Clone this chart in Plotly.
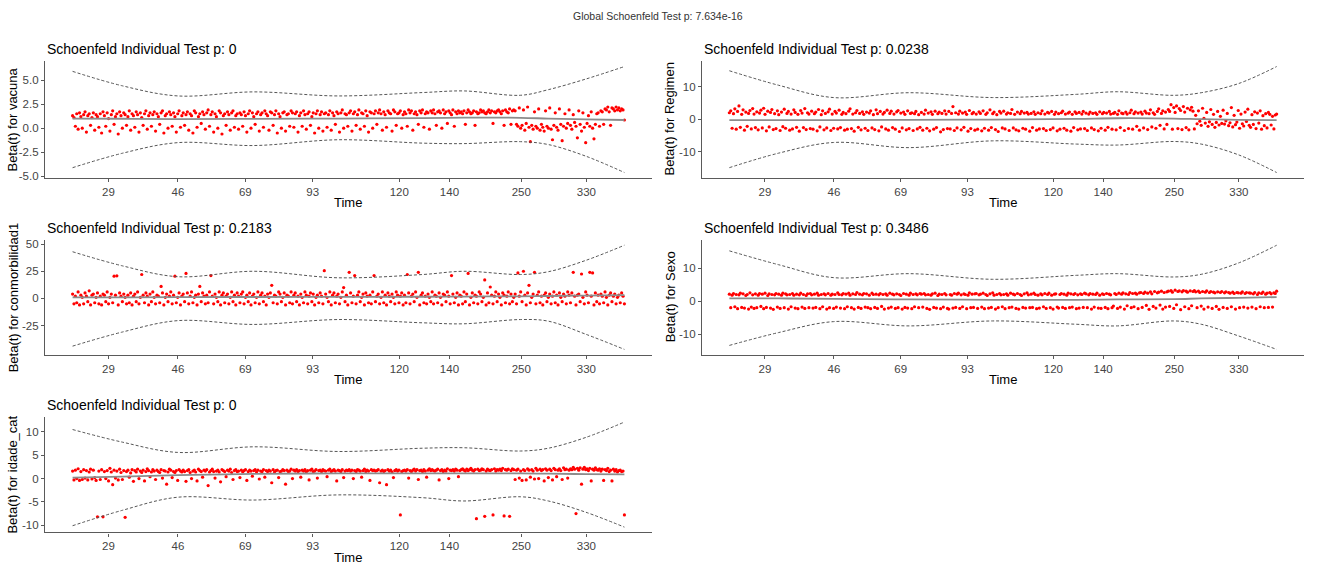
import plotly.graph_objects as go

# ---------------- data ----------------
N_EVENTS = 400
event_rank = list(range(N_EVENTS))          # events ordered by (transformed) time
knot_rank = [0, 36, 76, 131, 192, 253, 283, 324, 344, 371, 399]
time_tick_rank = [25.9, 76.2, 124.9, 173.6, 236.2, 272.5, 324.4, 371.5]
time_tick_labels = ["29", "46", "69", "93", "120", "140", "250", "330"]

global_title = "Global Schoenfeld Test p: 7.634e-16"
covariates = ["vacuna", "Regimen", "conmorbilidad1", "Sexo", "idade_cat"]
pvalues = ["0", "0.0238", "0.2183", "0.3486", "0"]

resid_vacuna = [
    1.3, 1.1, 0.2, 1.5, -0.1, 1.6, 1.2, 0.0, 1.4, 1.7, -0.4, 1.3, 1.5, 0.3, 1.1, 1.6, -0.2, 1.4, 1.2, 0.1,
    1.5, -0.5, 1.7, 1.3, 0.2, 1.6, 1.0, -0.3, 1.4, 1.8, 0.4, 1.2, 1.5, -0.6, 1.7, 1.3, 0.0, 1.6, 1.4, 0.3,
    1.2, 1.8, -0.2, 1.5, 1.3, 0.1, 1.7, 1.4, -0.4, 1.6, 1.1, 0.3, 1.5, 1.8, -0.1, 1.3, 1.6, 0.2, 1.4, 1.7,
    -0.3, 1.5, 1.2, 0.4, 1.6, 1.8, -0.5, 1.3, 1.5, 0.0, 1.7, 1.4, 0.2, 1.6, 1.2, -0.4, 1.5, 1.8, 0.1, 1.3,
    1.6, 0.3, 1.4, 1.7, -0.2, 1.5, 1.3, -0.5, 1.8, 1.6, 0.1, 1.2, 1.5, 0.5, 1.7, 1.4, -0.1, 1.6, 1.9, 0.2,
    1.4, 1.7, -0.4, 1.5, 1.2, 0.0, 1.8, 1.6, -0.6, 1.3, 1.5, 0.3, 1.7, 1.4, -0.2, 1.6, 1.8, 0.1, 1.3, 1.5,
    -0.1, 1.6, 1.4, 0.2, 1.7, 1.3, -0.4, 1.5, 1.8, 0.0, 1.6, 1.2, 0.4, 1.5, 1.7, -0.3, 1.4, 1.6, 0.1, 1.8,
    1.5, 1.3, -0.2, 1.7, 1.6, 0.3, 1.4, 1.8, -0.5, 1.5, 1.2, 0.0, 1.6, 1.7, -0.3, 1.4, 1.5, 0.2, 1.8, 1.6,
    0.1, 1.5, 1.7, -0.4, 1.3, 1.6, 0.2, 1.8, 1.4, -0.1, 1.5, 1.7, 0.3, 1.2, 1.6, -0.5, 1.5, 1.8, 0.0, 1.4,
    1.7, -0.3, 1.5, 1.6, 0.1, 1.4, 1.8, -0.2, 1.6, 1.3, 0.4, 1.7, 1.5, -0.4, 1.6, 1.9, 0.0, 1.5, 1.4, 0.2,
    1.6, 1.8, -0.3, 1.5, 1.7, 0.3, 1.4, 1.9, -0.1, 1.6, 1.5, 0.2, 1.8, 1.3, -0.4, 1.7, 1.6, 0.0, 1.5, 1.8,
    0.4, 1.6, 1.9, 1.5, -0.2, 1.7, 1.4, 0.1, 1.8, 1.6, 1.5, -0.3, 1.9, 1.7, 0.3, 1.5, 1.6, 1.8, 0.0, 1.4,
    1.7, 1.5, 0.2, 1.9, 1.6, 1.8, -0.2, 1.5, 1.7, 1.4, 0.4, 1.8, 1.6, 1.9, 0.1, 1.5, 1.7, 1.6, -0.1, 1.8,
    1.6, 1.9, 1.5, 0.3, 1.7, 1.8, 1.6, 0.0, 1.9, 1.5, 1.7, 0.5, 1.8, 1.6, 1.4, 1.9, 0.2, 1.7, 1.5, 1.8,
    1.6, 1.7, 1.5, 1.8, 0.4, 1.6, 1.9, 1.7, 1.5, 1.6, 1.8, 0.3, 1.7, 1.5, 1.6, 1.9, 1.7, 1.8, 1.6, 1.5,
    1.7, 1.9, 1.6, 1.8, 0.5, 1.7, 1.6, 1.8, 1.9, 1.7, 1.5, 1.8, 0.3, 1.9, 1.7, 1.6, 2.0, 0.4, 1.8, 1.9,
    1.8, 0.4, 0.2, 2.1, 0.0, 0.3, 1.9, -0.2, 0.5, 2.2, 0.1, -1.4, 0.3, -0.1, 1.7, 0.2, 0.0, 2.0, -0.2, 0.4,
    0.1, -0.3, 1.8, 0.2, 0.0, 2.1, -0.1, -1.2, 0.3, 1.6, 0.1, -0.2, 2.0, 0.4, -1.3, 0.2, 1.5, 0.0, 0.5, 1.9,
    0.3, -0.1, 1.4, 0.6, 0.2, -1.0, 1.8, 0.4, -0.3, 1.6, 0.1, -1.5, 0.5, 1.3, 0.2, 1.7, 0.0, -1.1, 0.4, 1.5,
    1.6, 0.2, 1.8, 1.7, 0.4, 2.0, 1.9, 2.2, 1.7, 0.3, 2.1, 2.0, 1.8, 2.2, 1.9, 2.1, 1.8, 2.0, 1.9, 0.85,
]
resid_regimen = [
    2.0, 2.6, -2.8, 1.7, 3.2, -3.1, 2.4, 4.1, -2.5, 1.5, 2.9, -3.4, 2.2, -2.2, 1.8, 2.7, -3.0, 3.3, 1.6, -2.6,
    2.3, -3.3, 1.9, 2.8, -2.7, 3.4, 1.5, -3.6, 2.5, -2.4, 2.1, 3.0, -3.2, 1.7, -2.9, 2.6, 1.4, -3.5, 2.2, -2.3,
    3.1, -2.8, 1.8, 2.4, -3.4, 1.6, -3.0, 2.9, 2.1, -2.5, 1.5, -3.7, 2.7, 1.9, -2.6, 3.3, -3.2, 2.0, 1.6, -2.9,
    2.5, -3.1, 1.7, 2.2, -3.6, 3.0, -2.4, 1.4, 2.6, -3.3, 1.8, -2.7, 2.3, 3.1, -3.5, 1.6, -2.8, 2.4, 1.9, -3.0,
    2.8, -2.6, 1.5, 2.1, -3.4, 1.7, -3.1, 2.5, 3.2, -2.9, 1.6, -3.7, 2.0, 2.7, -2.5, 1.8, -3.3, 2.3, 1.5, -2.8,
    2.2, -3.5, 1.9, 2.6, -2.7, 1.4, -3.2, 2.9, 1.7, -3.6, 2.4, -2.4, 1.6, 2.1, -3.0, 2.8, -3.4, 1.8, 2.5, -2.6,
    1.6, -3.1, 2.3, 2.7, -3.8, 1.9, -2.7, 2.2, 1.5, -3.3, 2.6, -2.9, 1.8, 2.0, -3.5, 1.7, 2.4, -3.0, 1.4, -2.5,
    2.1, -3.4, 1.6, 2.8, -2.8, 1.9, -3.6, 2.3, 1.5, -3.1, 2.5, -2.6, 1.7, 2.2, -3.9, 1.8, -3.2, 2.6, 1.6, -2.9,
    2.4, -3.0, 1.8, 3.9, -3.5, 2.0, -2.7, 1.6, 2.5, -3.3, 1.9, -2.5, 2.2, 1.5, -3.7, 2.7, -2.9, 1.7, 2.1, -3.4,
    1.6, -3.1, 2.3, 1.8, -3.6, 2.6, -2.8, 1.5, 2.0, -3.4, 2.9, -2.6, 1.7, 2.2, -3.2, 1.4, -3.8, 2.4, 1.9, -2.7,
    2.5, -3.0, 1.6, 2.0, -3.5, 1.8, 3.0, -2.7, 1.5, -3.3, 2.2, -3.6, 1.7, 2.4, -2.8, 1.9, -3.1, 2.1, 1.6, -3.7,
    1.8, -2.6, 2.3, 1.5, -3.4, 2.0, -3.0, 1.7, 2.6, -2.9, 1.6, -3.5, 2.1, 1.9, -3.2, 2.4, -2.7, 1.5, 2.2, -3.6,
    1.7, -3.1, 2.0, 2.5, -2.8, 1.6, -3.4, 1.9, 2.2, -3.7, 1.5, -2.6, 2.3, 1.8, -3.3, 2.1, -3.0, 1.6, 2.4, -2.9,
    1.9, -3.5, 1.6, 2.2, -2.7, 1.8, -3.2, 2.0, 1.5, -3.6, 2.3, -2.8, 1.7, 2.1, -3.4, 1.9, -2.5, 2.4, 1.6, -3.1,
    1.8, 2.1, -3.3, 1.5, 2.6, -2.6, 1.9, 1.7, -3.5, 2.2, 1.6, -2.9, 2.0, 2.8, -3.1, 1.7, 2.3, -2.2, 1.9, -3.4,
    2.2, 1.6, -2.7, 2.5, 1.9, -3.2, 1.7, 2.9, -2.4, 2.0, 1.5, -2.8, 2.4, 3.2, -1.9, 1.8, 2.6, -3.0, 2.2, -1.6,
    3.0, 2.4, 4.5, -3.1, 3.6, 2.1, 4.1, -2.9, 3.3, 2.7, -3.2, 3.9, 2.2, -2.6, 3.4, -3.3, 2.9, 3.7, 2.5, -3.0,
    1.2, -1.4, 2.6, -0.6, -1.9, 3.4, 0.3, -1.2, 2.1, -2.2, -0.8, 3.0, -1.6, 1.5, -2.5, -1.0, 2.4, -1.8, 0.9, -1.3,
    2.8, -1.5, -0.5, 1.8, -2.0, -1.1, 3.6, -2.4, 1.2, -1.7, -0.9, 2.7, -2.8, 1.6, -1.4, -2.1, 2.2, -0.7, 3.1, -1.9,
    -2.5, 1.4, -1.6, 2.3, -2.9, 1.9, -1.2, 2.6, -3.1, 1.1, -2.0, 1.7, -2.7, 2.1, 1.5, -1.8, 0.9, -3.0, 1.3, 1.6,
]
resid_conmorbilidad1 = [
    4, -5, 2, -4, 6, -6, 3, 1, -5, 5, 2, -3, 7, -6, 3, 4, -4, 1, 5, -5,
    2, -6, 4, 3, -3, 6, -5, 1, 4, -4, 20.5, 3, 20.8, -6, 5, 2, -3, 4, 1, -5,
    3, -4, 5, -6, 2, 4, -3, 6, -5, 1, 22, 3, -4, 5, 2, -6, 4, -3, 6, 1,
    -5, 3, 2, -4, 11, 5, -6, 1, 4, -3, 2, 6, -5, 3, 20.5, -4, 1, 5, -6, 2,
    4, -3, 23, 5, -5, 2, 6, -4, 1, 3, -6, 4, 11, -3, 5, 2, -5, 3, -4, 6,
    21, 2, -5, 4, 1, -3, 6, -6, 3, 5, -4, 2, 4, -5, 1, 6, -3, 3, -6, 5,
    2, -4, 4, 6, -5, 1, 3, -3, 5, -6, 2, 4, -4, 1, 6, -5, 3, 5, -3, 2,
    -6, 4, 1, 5, 12, -4, 3, 2, -5, 6, 4, -3, 1, 5, -6, 3, 2, -4, 6, -5,
    3, 5, -3, 2, -6, 4, 1, -4, 6, 3, -5, 2, 5, -3, 4, -6, 1, 3, -4, 5,
    2, -5, 25.5, 4, 1, -3, 6, -6, 3, 5, -4, 2, 4, -5, 1, 6, 10, -3, 3, -6,
    24, 5, -4, 2, 21, -5, 3, 6, -3, 1, 4, -6, 5, 2, -4, 3, -5, 6, 21, -3,
    2, 4, -5, 1, 6, -4, 3, -6, 5, 2, -3, 4, 1, -5, 6, 3, -4, 2, 5, -6,
    3, -4, 22, 5, -5, 2, 4, -3, 6, 1, 24, -6, 3, 5, -4, 2, -5, 4, 1, -3,
    6, -5, 3, 2, -4, 5, 1, -6, 4, 3, -3, 6, 2, -5, 21, 4, -4, 1, 5, -6,
    3, 2, -5, 6, -3, 4, 23, -6, 1, 5, -4, 3, 2, -5, 6, 4, -3, 1, 17, -6,
    5, -4, 10.5, 3, -5, 2, 6, -3, 4, 1, -6, 5, 3, -4, 2, 6, -5, 4, -3, 1,
    4, -5, 23.5, 2, 6, -3, 25, 3, -6, 5, 12, -4, 1, 4, 24, -5, 3, 6, -4, 2,
    -6, 3, 5, -3, 1, 4, -5, 2, 6, -4, 3, -6, 5, 1, -3, 4, 2, -5, 6, 3,
    -4, 5, 24, 2, -6, 3, 4, -3, 22.5, 1, -5, 6, 3, -4, 24, 2, 23.5, -6, 5, -3,
    3, -5, 4, 2, -4, 6, 1, -6, 3, 5, -3, 2, 4, -5, 1, 3, -4, 5, 2, -5,
]
resid_sexo = [
    2.1, -2.0, 1.8, 2.3, -1.7, 2.0, -2.3, 1.9, 2.4, -1.9, 2.2, -2.1, 1.7, 2.0, -2.4, 2.5, -1.8, 1.9, -2.2, 2.2,
    -2.0, 1.8, 2.3, -1.6, 2.1, -2.3, 2.4, -1.9, 1.7, 2.2, -2.1, 2.0, -2.5, 1.9, 2.3, -1.8, 2.1, -2.2, 1.8, 2.4,
    -2.0, 2.2, 1.9, -2.4, 2.0, -1.7, 2.3, 1.8, -2.1, 2.1, -2.3, 1.9, 2.4, -1.8, 2.0, -2.2, 1.7, 2.2, -2.0, 2.3,
    1.9, -2.1, 2.1, -1.9, 2.4, 1.8, -2.3, 2.0, -1.7, 2.2, 1.9, -2.4, 2.3, -2.0, 1.8, 2.1, -2.2, 2.0, -1.8, 2.5,
    2.0, -2.1, 1.9, 2.3, -2.3, 2.1, -1.7, 2.4, 1.8, -2.0, 2.2, -2.4, 2.0, 2.6, -1.9, 2.1, -2.2, 1.9, 2.3, -1.8,
    2.2, -2.0, 1.8, -2.3, 2.4, 2.0, -1.9, 2.1, -2.2, 1.9, 2.3, -1.6, 2.0, -2.4, 2.2, 1.8, -2.1, 2.4, -1.8, 2.1,
    1.9, -2.2, 2.2, -2.0, 2.0, 1.7, -2.4, 2.3, -1.9, 2.1, -2.1, 1.8, 2.4, -2.3, 2.0, -1.7, 2.2, 1.9, -2.0, 2.3,
    2.1, -1.8, 2.3, 1.9, -2.2, 2.0, -2.5, 1.8, 2.2, -1.9, 2.4, -2.1, 1.7, 2.1, -2.3, 2.0, -1.8, 2.3, 1.9, -2.2,
    -2.4, 2.0, 1.8, -2.1, 2.3, -1.9, 2.1, 2.4, -2.2, 1.9, -1.7, 2.2, 2.0, -2.3, 1.8, 2.5, -2.0, 2.1, -1.9, 2.2,
    2.3, -2.2, 1.9, 2.1, -1.8, 2.4, -2.3, 2.0, 1.7, -2.1, 2.2, -1.9, 2.5, 1.8, -2.4, 2.0, -2.0, 2.3, 1.9, -1.7,
    2.0, -2.3, 2.2, 1.8, -2.0, 2.4, -1.8, 2.1, 1.9, -2.2, 2.3, -2.4, 2.0, 1.7, -1.9, 2.2, -2.1, 2.5, 1.9, -2.0,
    2.1, -1.9, 2.4, 2.0, -2.3, 1.8, -2.1, 2.2, 1.9, -1.7, 2.3, -2.2, 2.0, 2.4, -2.0, 1.8, -2.4, 2.1, 2.2, -1.8,
    -2.1, 2.0, 2.3, -1.9, 2.1, -2.2, 1.8, 2.4, -2.0, 2.2, -1.8, 2.0, 2.3, -2.3, 1.9, -2.1, 2.2, 2.0, -1.9, 2.4,
    2.2, -2.0, 1.9, 2.3, -2.4, 2.1, -1.8, 2.0, 2.4, -2.1, 1.8, -2.2, 2.2, 2.0, -1.9, 2.3, -2.3, 2.1, 1.9, -2.0,
    -1.5, 2.3, 2.0, -2.2, 2.4, -1.8, 2.1, 2.5, -2.4, 2.2, -1.4, 2.0, 2.6, -2.0, 2.3, -1.7, 2.4, 2.1, -2.3, 2.5,
    2.6, -1.9, 2.3, 2.7, -1.3, 2.4, -2.5, 2.8, 2.2, -1.6, 2.9, -2.1, 2.5, 2.7, -1.2, 3.0, -2.4, 2.6, -1.8, 2.8,
    3.0, -1.6, 3.2, 2.7, -2.2, 3.3, -1.1, 2.9, 3.1, -2.6, 2.8, 3.2, -1.7, 3.0, 2.7, -2.3, 3.1, -1.4, 2.9, 3.2,
    2.8, -2.0, 3.0, 2.6, -1.5, 2.9, -2.4, 2.7, 3.1, -1.8, 2.6, 2.9, -2.2, 2.7, 2.5, -1.6, 2.8, -2.5, 2.6, 2.9,
    -1.9, 2.5, 2.8, -2.2, 2.6, 2.4, -1.7, 2.7, 2.3, -2.4, 2.6, 2.5, -2.0, 2.4, 2.8, -1.8, 2.3, 2.6, -2.1, 2.5,
    2.4, -1.8, 2.2, 2.6, -2.3, 2.0, 2.5, -1.7, 2.3, 2.7, -2.0, 2.1, 2.4, -1.9, 2.6, 2.2, -1.8, 2.5, 2.3, 3.0,
]
resid_idade_cat = [
    1.6, -0.3, 1.8, 0.0, 2.1, -0.4, 1.5, -0.2, 1.9, 0.1, 1.7, -0.3, 1.4, 2.0, -0.1, 1.8, 0.2, -0.4, -8.2, 1.6,
    -0.2, 1.9, -8.2, 1.5, 0.0, 1.7, -0.5, 2.2, 1.4, -1.3, 1.8, 0.1, 1.6, -0.3, 2.0, 1.3, -0.2, 1.7, -8.3, 1.5,
    1.8, 0.3, 1.2, 1.9, -0.6, 1.7, 1.4, 2.0, 0.0, 1.6, 1.3, 1.8, -0.5, 1.5, 2.1, 1.7, 0.4, 1.4, 1.9, 1.6,
    -0.2, 1.8, 1.5, 1.3, 1.9, 0.1, 1.7, 1.6, -1.2, 1.4, 2.0, 1.8, 0.2, 1.5, 1.3, 1.7, -0.4, 1.9, 1.6, 1.4,
    1.8, 1.5, -0.6, 1.7, 1.9, 1.3, 0.0, 1.6, 1.8, 1.4, -0.5, 2.0, 1.7, 1.5, 0.3, 1.8, 1.6, 1.9, -1.5, 1.4,
    1.7, 2.0, 1.5, 0.1, 1.6, 1.8, 1.4, -0.7, 1.9, 1.7, 1.5, 0.4, 1.8, 1.6, 2.0, 1.3, -0.2, 1.7, 1.9, 1.5,
    1.6, 0.2, 1.8, 1.4, 1.7, 1.9, -0.4, 1.5, 1.8, 1.6, 0.5, 1.7, 1.9, 1.4, 1.8, -0.1, 1.6, 1.5, 1.9, 0.3,
    1.7, 1.5, 1.8, 1.6, -0.9, 1.9, 1.4, 1.7, 1.8, 0.2, 1.5, 1.6, 1.9, 1.7, -1.2, 1.8, 1.5, 1.6, 2.0, 0.0,
    1.8, 1.6, 1.9, 1.5, 1.7, 0.3, 1.8, 1.6, 1.9, 1.4, 1.7, -0.3, 1.8, 2.0, 1.5, 1.6, 1.9, 0.1, 1.7, 1.8,
    1.5, 1.9, 1.7, 1.6, 0.4, 1.8, 2.0, 1.5, 1.7, 1.9, 1.6, -0.5, 1.8, 1.7, 1.5, 1.9, 0.2, 1.6, 1.8, 1.7,
    1.9, 1.6, 1.8, 0.0, 1.7, 1.5, 1.9, 1.8, 1.6, 0.3, 1.7, 2.0, 1.5, 1.8, 1.6, -0.4, 1.9, 1.7, 1.8, 1.6,
    1.7, 1.9, -0.9, 1.6, 1.8, 1.5, 1.7, -1.3, 1.9, 1.6, 1.8, 1.4, 0.2, 1.7, 1.9, 1.6, 1.8, -7.8, 1.5, 1.7,
    1.8, 1.6, 1.9, 0.1, 1.7, 1.5, 1.8, 2.0, 1.6, 1.9, -0.2, 1.7, 1.8, 1.5, 1.9, 1.6, 0.3, 1.8, 2.1, 1.7,
    1.9, 1.7, 1.6, 1.8, 2.0, -0.3, 1.7, 1.9, 1.5, 1.8, 1.6, 2.1, 0.0, 1.8, 1.7, 1.9, 1.6, 2.0, 1.8, 0.4,
    1.7, 1.9, 2.1, 1.8, 1.6, 2.0, 1.7, 1.9, 2.2, 1.8, 1.6, 1.9, -8.6, 2.0, 1.7, 1.8, 2.1, 1.9, -8.1, 1.6,
    2.0, 1.8, 1.7, 1.9, -7.8, 2.1, 1.6, 1.9, 1.8, 2.0, 1.7, 2.2, -8.0, 1.9, 1.8, 2.0, -8.1, 1.7, 2.1, 1.9,
    -0.2, 1.8, 2.0, 0.1, 1.6, -0.4, 1.9, 1.7, -0.3, 2.1, 1.8, 0.3, 1.9, 1.6, -0.1, 2.2, 1.8, 0.0, 2.0, 1.7,
    1.9, -0.5, 2.1, 1.8, 0.2, 2.0, 1.7, -0.3, 2.2, 1.9, 0.4, 1.8, 2.1, 1.7, -0.2, 2.3, 1.9, 2.0, 0.1, 1.8,
    2.1, 1.9, 2.4, 2.0, -7.5, 2.2, 1.8, 2.3, -1.2, 2.0, 2.4, 1.9, 2.1, 1.7, 2.2, -0.5, 2.0, 1.8, 2.3, 1.9,
    1.8, 2.1, 1.6, 2.0, -0.4, 1.9, 1.7, 2.2, 1.5, 1.8, -0.5, 2.0, 1.6, 1.9, 1.4, 1.7, 1.8, 1.5, 1.6, -7.8,
]

fit_vacuna = [1.0, 0.98, 0.95, 0.97, 1.0, 1.05, 1.1, 1.08, 1.0, 0.92, 0.85]
upper_vacuna = [5.9, 4.4, 3.35, 3.77, 3.35, 3.7, 3.87, 3.42, 4.0, 5.1, 6.4]
lower_vacuna = [-4.1, -2.6, -1.5, -1.8, -1.2, -1.55, -1.6, -1.4, -1.7, -2.9, -4.6]

fit_regimen = [-0.3, -0.3, -0.3, -0.2, -0.1, 0.1, 0.3, 0.2, 0.0, -0.2, -0.3]
upper_regimen = [15.0, 10.5, 6.7, 8.2, 6.7, 7.7, 8.5, 7.4, 8.2, 11.0, 16.3]
lower_regimen = [-15.0, -10.5, -7.2, -8.8, -6.7, -7.7, -8.0, -6.9, -7.7, -11.0, -16.5]

fit_conmorbilidad1 = [1.0, 1.0, 1.2, 1.3, 1.4, 1.5, 1.7, 1.9, 2.2, 2.6, 3.0]
upper_conmorbilidad1 = [43, 30, 20, 25, 19, 22, 25, 22, 24.6, 35, 49]
lower_conmorbilidad1 = [-44, -31, -20.5, -24, -19.5, -22.5, -23.4, -19.5, -21, -33, -47]

fit_sexo = [0.8, 0.8, 0.7, 0.5, 0.4, 0.4, 0.5, 0.6, 0.8, 1.0, 1.2]
upper_sexo = [15.2, 11.0, 7.1, 8.3, 6.6, 7.8, 8.3, 7.3, 8.1, 11.5, 16.9]
lower_sexo = [-13.4, -9.5, -6.2, -7.5, -6.0, -7.0, -7.5, -6.0, -7.0, -10.5, -14.6]

fit_idade_cat = [0.2, 0.4, 0.75, 1.0, 1.1, 1.1, 1.1, 1.1, 1.05, 0.95, 0.9]
upper_idade_cat = [10.5, 7.8, 5.6, 6.8, 5.8, 6.5, 6.6, 5.9, 6.5, 8.8, 12.1]
lower_idade_cat = [-10.1, -6.8, -4.0, -4.6, -3.5, -4.1, -4.8, -3.9, -4.8, -7.2, -10.4]

ytick_vals = [
    [-5.0, -2.5, 0.0, 2.5, 5.0],
    [-10, 0, 10],
    [-25, 0, 25, 50],
    [-10, 0, 10],
    [-10, -5, 0, 5, 10],
]
ytick_labels = [
    ["-5.0", "-2.5", "0.0", "2.5", "5.0"],
    ["-10", "0", "10"],
    ["-25", "0", "25", "50"],
    ["-10", "0", "10"],
    ["-10", "-5", "0", "5", "10"],
]

residuals = [resid_vacuna, resid_regimen, resid_conmorbilidad1, resid_sexo, resid_idade_cat]
fits = [fit_vacuna, fit_regimen, fit_conmorbilidad1, fit_sexo, fit_idade_cat]
uppers = [upper_vacuna, upper_regimen, upper_conmorbilidad1, upper_sexo, upper_idade_cat]
lowers = [lower_vacuna, lower_regimen, lower_conmorbilidad1, lower_sexo, lower_idade_cat]

# ---------------- layout geometry (pixels) ----------------
W, H = 1317, 567
FONT = "Liberation Sans, Arial, sans-serif"
cols = [(45, 652), (702, 1304)]
rows = [(60, 178), (241, 357), (420, 537)]
panel_pos = [(0, 0), (0, 1), (1, 0), (1, 1), (2, 0)]   # (row, col)


def px_x(p):
    return p / W


def px_y(p):
    return 1 - p / H


fig = go.Figure()
annotations = []
AXIS_COLOR = "#5a5a5a"
TICK_FONT = dict(family=FONT, size=11.5, color="#444444")

for i, cov in enumerate(covariates):
    r, c = panel_pos[i]
    ax = "" if i == 0 else str(i + 1)
    xref, yref = "x" + ax, "y" + ax
    res = residuals[i]
    xs = event_rank[:len(res)]

    fig.add_trace(go.Scatter(x=xs, y=res, mode="markers", xaxis=xref, yaxis=yref,
                             marker=dict(color="#FF0000", size=3.2, line=dict(width=0)),
                             showlegend=False, hoverinfo="skip"))
    fig.add_trace(go.Scatter(x=knot_rank, y=fits[i], mode="lines", xaxis=xref, yaxis=yref,
                             line=dict(color="#8c8c8c", width=1.8, shape="spline", smoothing=1.0),
                             showlegend=False, hoverinfo="skip"))
    for band in (uppers[i], lowers[i]):
        fig.add_trace(go.Scatter(x=knot_rank, y=band, mode="lines", xaxis=xref, yaxis=yref,
                                 line=dict(color="#555555", width=1, dash="3px,2px",
                                           shape="spline", smoothing=1.0),
                                 showlegend=False, hoverinfo="skip"))

    allv = list(res) + list(uppers[i]) + list(lowers[i]) + list(fits[i])
    lo, hi = min(allv), max(allv)
    pad = 0.05 * (hi - lo)
    xlo, xhi = min(event_rank), max(event_rank)
    xpad = 0.05 * (xhi - xlo)

    x0, x1 = cols[c]
    y0, y1 = rows[r]
    common = dict(showgrid=False, zeroline=False, showline=True, linecolor=AXIS_COLOR,
                  linewidth=1.3, ticks="outside", ticklen=3, tickwidth=1, tickcolor=AXIS_COLOR,
                  tickfont=TICK_FONT, mirror=False)
    fig.update_layout(**{
        "xaxis" + ax: dict(domain=[px_x(x0), px_x(x1)], range=[xlo - xpad, xhi + xpad],
                           tickmode="array", tickvals=time_tick_rank, ticktext=time_tick_labels,
                           anchor=yref, **common),
        "yaxis" + ax: dict(domain=[px_y(y1), px_y(y0)], range=[lo - pad, hi + pad],
                           tickmode="array", tickvals=ytick_vals[i], ticktext=ytick_labels[i],
                           anchor=xref, **common),
    })

    # panel title
    annotations.append(dict(text="Schoenfeld Individual Test p: " + pvalues[i],
                            x=px_x(x0), y=px_y(y0 - 12), xref="paper", yref="paper",
                            xanchor="left", yanchor="middle", showarrow=False,
                            font=dict(family=FONT, size=14, color="#000000")))
    # x title
    annotations.append(dict(text="Time", x=px_x((x0 + x1) / 2), y=px_y(y1 + 25),
                            xref="paper", yref="paper", xanchor="center", yanchor="middle",
                            showarrow=False, font=dict(family=FONT, size=13, color="#000000")))
    # y title
    annotations.append(dict(text="Beta(t) for " + cov, x=px_x(x0 - 32), y=px_y((y0 + y1) / 2),
                            xref="paper", yref="paper", xanchor="center", yanchor="middle",
                            textangle=-90, showarrow=False,
                            font=dict(family=FONT, size=13, color="#000000")))

annotations.append(dict(text=global_title, x=px_x(657.5), y=px_y(14), xref="paper", yref="paper",
                        xanchor="center", yanchor="middle", showarrow=False,
                        font=dict(family=FONT, size=10.5, color="#333333")))

fig.update_layout(width=W, height=H, margin=dict(l=0, r=0, t=0, b=0),
                  paper_bgcolor="white", plot_bgcolor="white",
                  annotations=annotations, showlegend=False)

fig.write_html("out.html")
